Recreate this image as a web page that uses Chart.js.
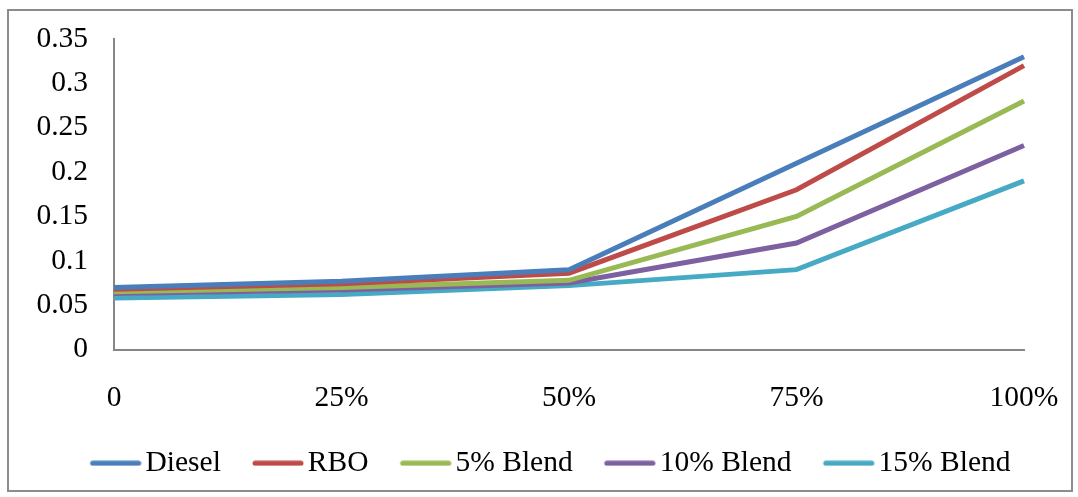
<!DOCTYPE html>
<html>
<head>
<meta charset="utf-8">
<script src="https://cdn.jsdelivr.net/npm/chart.js@4/dist/chart.umd.min.js"></script>
<style>
  body { margin: 0; background: #fff; }
  .chart-wrap { position: relative; width: 1078px; height: 497px; }
  .chart-frame { position: absolute; left: 7px; top: 9px; width: 1062px; height: 479px; border: 2px solid #8c8c8c; pointer-events: none; }
</style>
</head>
<body>
<div class="chart-wrap">
  <canvas id="fuelChart" width="1078" height="497"></canvas>
  <div class="chart-frame"></div>
</div>
<script>
// Chart data
const loads = ["0", "25%", "50%", "75%", "100%"];
const diesel = [0.07, 0.077, 0.09, 0.21, 0.33];
const rbo = [0.068, 0.074, 0.086, 0.18, 0.32];
const blend5 = [0.065, 0.07, 0.078, 0.15, 0.28];
const blend10 = [0.063, 0.067, 0.075, 0.12, 0.23];
const blend15 = [0.058, 0.062, 0.072, 0.09, 0.19];

const seriesNames = ["Diesel", "RBO", "5% Blend", "10% Blend", "15% Blend"];
const seriesColors = ["#4a7ebb", "#be4b48", "#98b954", "#7d60a0", "#46aac5"];
const seriesValues = [diesel, rbo, blend5, blend10, blend15];

const axisColor = "#868686";
const fontFamily = "'Liberation Serif', 'Times New Roman', serif";
const fontSize = 29.5;
const legendPadding = 27;
const markerWidth = 72.25 - legendPadding; // pointStyleWidth

// legend marker: rounded line sitting at the right side of a wider transparent canvas
function legendLine(color) {
    const c = document.createElement("canvas");
    c.width = Math.round(markerWidth + 21.5);
    c.height = 6;
    const g = c.getContext("2d");
    g.strokeStyle = color;
    g.lineWidth = 5;
    g.lineCap = "round";
    g.beginPath();
    g.moveTo(c.width - 49, 3);
    g.lineTo(c.width - 3, 3);
    g.stroke();
    return c;
}

const ctx = document.getElementById("fuelChart").getContext("2d");

let fuelChart = new Chart(ctx, {
    type: "line",
    data: {
        labels: loads,
        datasets: seriesNames.map((name, i) => ({
            label: name,
            data: seriesValues[i],
            borderColor: seriesColors[i],
            backgroundColor: seriesColors[i],
            borderWidth: 5,
            pointRadius: 0,
            pointHoverRadius: 0,
            pointStyle: legendLine(seriesColors[i]),
            tension: 0,
            fill: false
        }))
    },
    options: {
        responsive: false,
        animation: false,
        layout: {
            padding: { top: 39, right: 0, bottom: 9, left: 18 }
        },
        scales: {
            x: {
                offset: false,
                grid: { display: false, drawTicks: false },
                border: { display: true, color: axisColor, width: 2 },
                ticks: {
                    color: "#000",
                    padding: 31,
                    maxRotation: 0,
                    font: { family: fontFamily, size: fontSize }
                },
                afterFit: function(scale) {
                    scale.height = 72;
                    scale.paddingLeft = 0;
                    scale.paddingRight = 54;
                }
            },
            y: {
                min: 0,
                max: 0.35,
                grid: { display: false, drawTicks: false },
                border: { display: true, color: axisColor, width: 2 },
                ticks: {
                    stepSize: 0.05,
                    color: "#000",
                    padding: 26,
                    font: { family: fontFamily, size: fontSize },
                    callback: function(value) {
                        return parseFloat(value.toFixed(2)).toString();
                    }
                },
                afterFit: function(scale) {
                    scale.width = 96;
                    scale.paddingTop = 0;
                    scale.paddingBottom = 0;
                }
            }
        },
        plugins: {
            tooltip: { enabled: false },
            legend: {
                position: "bottom",
                labels: {
                    color: "#000",
                    usePointStyle: true,
                    pointStyleWidth: markerWidth,
                    boxHeight: 5,
                    padding: legendPadding,
                    font: { family: fontFamily, size: fontSize }
                }
            }
        }
    }
});
</script>
</body>
</html>
